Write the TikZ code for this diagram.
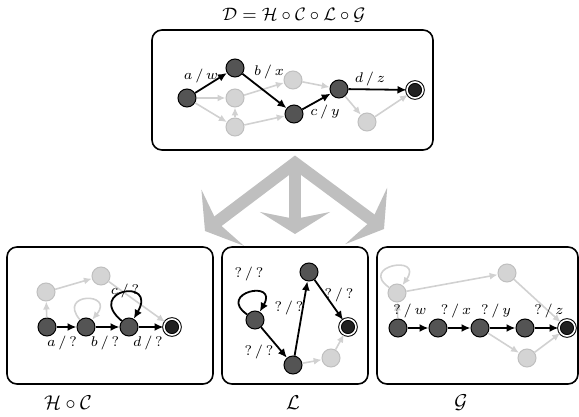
\documentclass[tikz,border=0pt]{standalone}
\usetikzlibrary{arrows.meta}
\tikzset{
  dark/.style={circle, draw=black, fill=black!67, line width=0.5pt, minimum size=9pt, inner sep=0pt},
  pale/.style={circle, draw=black!25, fill=black!17, line width=0.5pt, minimum size=9pt, inner sep=0pt},
  accept/.style={circle, draw=black, double=white, double distance=0.8pt, fill=black!87, line width=0.5pt, minimum size=8pt, inner sep=0pt},
  run/.style={draw=black, line width=0.9pt, -{Latex[length=4.5pt, width=4pt]}},
  faint/.style={draw=black!18, line width=0.8pt, -{Latex[length=4pt, width=3.5pt]}},
  panel/.style={draw=black, line width=0.8pt, rounded corners=5pt},
  lab/.style={font=\fontsize{7}{8}\selectfont, inner sep=0pt},
  fat/.style={draw=black!25, line width=6pt, line join=miter},
  fathead/.tip={Stealth[length=11pt, width=35pt, inset=3.5pt]},
}
\begin{document}
\begin{tikzpicture}[x={(0.5pt, 0pt)}, y={(0pt, -0.5pt)}]
  \useasboundingbox (0, 0) rectangle (579, 417);

  % top: the whole decoder
  \node (ttl) at (294, 15) {\fontsize{9.5}{11}\selectfont $\mathcal{D} = \mathcal{H} \circ \mathcal{C} \circ \mathcal{L} \circ \mathcal{G}$};
  \draw[panel] (152, 30) rectangle (433, 150);
  \node[dark] (t1) at (187, 98) {};
  \node[dark] (t2) at (235, 68) {};
  \node[pale] (t3) at (235, 98) {};
  \node[pale] (t4) at (235, 127) {};
  \node[pale] (t5) at (293, 80) {};
  \node[dark] (t6) at (294, 114) {};
  \node[dark] (t7) at (339, 89) {};
  \node[pale] (t8) at (367, 122) {};
  \node[accept] (t9) at (415, 90) {};
  \draw[faint] (t1) -- (t3);
  \draw[faint] (t1) -- (t4);
  \draw[faint] (t4) -- (t3);
  \draw[faint] (t3) -- (t5);
  \draw[faint] (t5) -- (t7);
  \draw[faint] (t4) -- (t6);
  \draw[faint] (t7) -- (t8);
  \draw[faint] (t8) -- (t9);
  \draw[run] (t1) -- (t2);
  \draw[run] (t2) -- (t6);
  \draw[run] (t6) -- (t7);
  \draw[run] (t7) -- (t9);
  \foreach \x/\y/\i/\o [count=\k] in {201/76/a/w, 269/72/b/x, 325/112/c/y, 370/79/d/z} {
    \node[lab] (tl\k) at (\x, \y) {$\i\,/\,\o$};
  }

  % split arrows
  \coordinate (fork) at (295, 163);
  \coordinate (toH) at (205, 231);
  \coordinate (toL) at (295, 234);
  \coordinate (toG) at (384, 229);
  \draw[fat, fathead-fathead] (toH) -- (fork) -- (toG);
  \draw[fat, -fathead] (fork) -- (toL);

  % H o C
  \draw[panel] (7, 247) rectangle (213, 384);
  \node (hcn) at (68, 403) {$\mathcal{H} \circ \mathcal{C}$};
  \node[pale] (h5) at (46, 292) {};
  \node[pale] (h6) at (101, 276) {};
  \node[dark] (h1) at (47, 327) {};
  \node[dark] (h2) at (86, 327) {};
  \node[dark] (h3) at (129, 327) {};
  \node[accept] (h4) at (172, 327) {};
  \draw[faint] (h1) -- (h5);
  \draw[faint] (h5) -- (h6);
  \draw[faint] (h6) -- (h4);
  \draw[faint] (h2) to[out=130, in=50, distance=18pt] (h2);
  \draw[run] (h1) -- (h2);
  \draw[run] (h2) -- (h3);
  \draw[run] (h3) -- (h4);
  \draw[run] (h3) to[out=140, in=60, distance=24pt] (h3);
  \foreach \x/\y/\i/\o [count=\k] in {62/343/a/?, 105/343/b/?, 125/291/c/?, 148/343/d/?} {
    \node[lab] (hl\k) at (\x, \y) {$\i\,/\,\o$};
  }

  % L
  \draw[panel] (222, 247) rectangle (368, 384);
  \node (lcn) at (293, 403) {$\mathcal{L}$};
  \node[dark] (l1) at (255, 320) {};
  \node[dark] (l2) at (293, 365) {};
  \node[dark] (l3) at (309, 272) {};
  \node[pale] (l4) at (331, 358) {};
  \node[accept] (l5) at (348, 327) {};
  \draw[faint] (l2) -- (l4);
  \draw[faint] (l4) -- (l5);
  \draw[run] (l1) to[out=145, in=60, distance=19pt] (l1);
  \draw[run] (l1) -- (l2);
  \draw[run] (l2) -- (l3);
  \draw[run] (l3) -- (l5);
  \foreach \x/\y/\i/\o [count=\k] in {249/274/?/?, 259/352/?/?, 289/308/?/?, 339/295/?/?} {
    \node[lab] (ll\k) at (\x, \y) {$\i\,/\,\o$};
  }

  % G
  \draw[panel] (377, 247) rectangle (578, 384);
  \node (gcn) at (461, 403) {$\mathcal{G}$};
  \node[pale] (g6) at (397, 293) {};
  \node[pale] (g7) at (507, 273) {};
  \node[pale] (g8) at (527, 358) {};
  \node[dark] (g1) at (398, 328) {};
  \node[dark] (g2) at (438, 328) {};
  \node[dark] (g3) at (480, 328) {};
  \node[dark] (g4) at (525, 328) {};
  \node[accept] (g5) at (567, 328) {};
  \draw[faint] (g1) -- (g6);
  \draw[faint] (g6) to[out=145, in=55, distance=19pt] (g6);
  \draw[faint] (g6) -- (g7);
  \draw[faint] (g7) -- (g5);
  \draw[faint] (g3) -- (g8);
  \draw[faint] (g8) -- (g5);
  \draw[run] (g1) -- (g2);
  \draw[run] (g2) -- (g3);
  \draw[run] (g3) -- (g4);
  \draw[run] (g4) -- (g5);
  \foreach \x/\y/\i/\o [count=\k] in {410/311/?/w, 456/311/?/x, 496/311/?/y, 549/311/?/z} {
    \node[lab] (gl\k) at (\x, \y) {$\i\,/\,\o$};
  }
\end{tikzpicture}
\end{document}
